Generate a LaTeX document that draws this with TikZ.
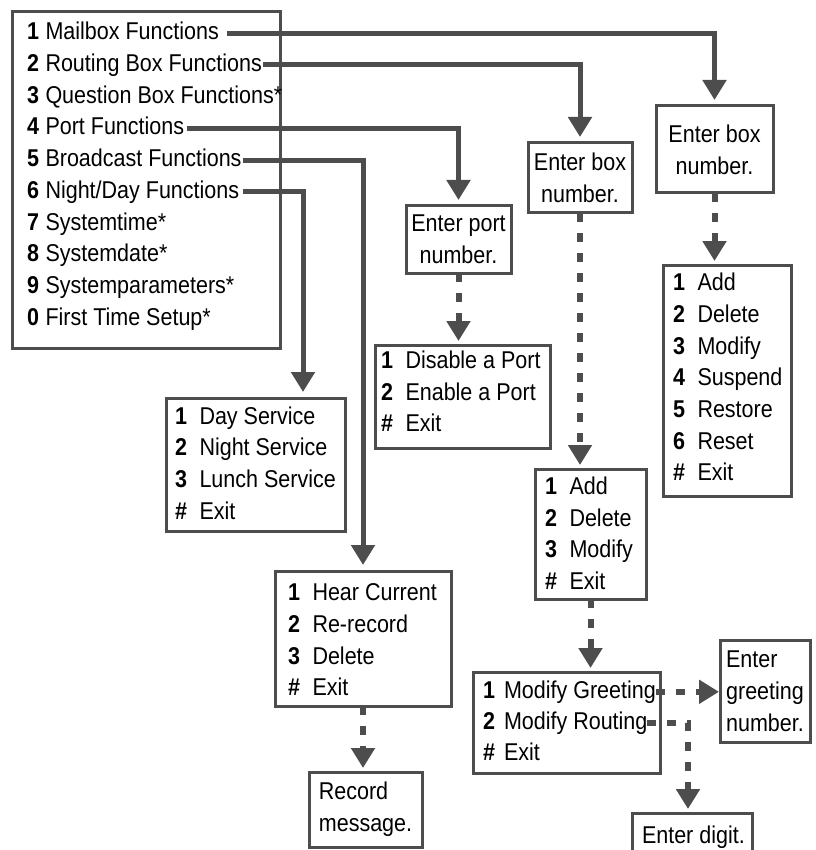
\documentclass[tikz,border=0pt]{standalone}
\usepackage{fontspec}
\setmainfont[FakeStretch=0.885]{Liberation Sans}
\usetikzlibrary{arrows.meta,calc}
\definecolor{lg}{RGB}{77,77,77}
\newcommand\rowfont{\fontsize{24.3}{32}\selectfont}
\newcommand\nmA[1]{\makebox[18.5pt][l]{\bfseries #1}}
\newcommand\nmB[1]{\makebox[24.5pt][l]{\bfseries #1}}
\newcommand\nmC[1]{\makebox[21pt][l]{\bfseries #1}}
\begin{document}
\begin{tikzpicture}[x=1pt,y=-1pt,
  box/.style={draw=lg, line width=3pt, anchor=north west, inner sep=0pt, outer sep=0pt},
  tbox/.style={box, font=\rowfont, align=center},
  row/.style={anchor=base west, inner sep=0pt, outer sep=0pt, text height=13pt, text depth=0pt, font=\rowfont},
  conn/.style={draw=lg, line width=5pt, line join=miter, -{Triangle[width=23pt,length=20pt]}, shorten >=6pt},
  dconn/.style={draw=lg, line width=6pt, dash pattern=on 9pt off 11pt, -{Triangle[width=23pt,length=20pt]}, shorten >=4pt}
]
\useasboundingbox (0,0) rectangle (815,850);
\clip (0,0) rectangle (815,850);

% main menu
\node[box, minimum width=268pt, minimum height=336pt] (main) at (12,12) {};
\node[row] (m1) at (27,39.8) {\nmA{1}Mailbox Functions};
\node[row] (m2) at (27,71.5) {\nmA{2}Routing Box Functions};
\node[row] (m3) at (27,103.2) {\nmA{3}Question Box Functions*};
\node[row] (m4) at (27,134.9) {\nmA{4}Port Functions};
\node[row] (m5) at (27,166.6) {\nmA{5}Broadcast Functions};
\node[row] (m6) at (27,198.3) {\nmA{6}Night/Day Functions};
\node[row] (m7) at (27,230.0) {\nmA{7}Systemtime*};
\node[row] (m8) at (27,261.7) {\nmA{8}Systemdate*};
\node[row] (m9) at (27,293.4) {\nmA{9}Systemparameters*};
\node[row] (m0) at (27,325.1) {\nmA{0}First Time Setup*};

% enter boxes
\node[tbox, minimum width=117pt, minimum height=87pt] (bR) at (656,106) {Enter box\\number.};
\node[tbox, minimum width=104pt, minimum height=70pt] (bM) at (528,143) {Enter box\\number.};
\node[tbox, minimum width=105pt, minimum height=67pt] (bP) at (406,206) {Enter port\\number.};

% right menu
\node[box, minimum width=128pt, minimum height=231pt] (rbox) at (663,265) {};
\node[row] (r1) at (673,290.7) {\nmB{1}Add};
\node[row] (r2) at (673,322.4) {\nmB{2}Delete};
\node[row] (r3) at (673,354.1) {\nmB{3}Modify};
\node[row] (r4) at (673,385.8) {\nmB{4}Suspend};
\node[row] (r5) at (673,417.5) {\nmB{5}Restore};
\node[row] (r6) at (673,449.2) {\nmB{6}Reset};
\node[row] (r7) at (673,480.9) {\nmB{\#}Exit};

% port menu
\node[box, minimum width=175pt, minimum height=103pt] (pbox) at (375,345) {};
\node[row] (p1) at (381,368.3) {\nmB{1}Disable a Port};
\node[row] (p2) at (381,400.0) {\nmB{2}Enable a Port};
\node[row] (p3) at (381,431.7) {\nmB{\#}Exit};

% day menu
\node[box, minimum width=179pt, minimum height=133pt] (day) at (166,398) {};
\node[row] (d1) at (175,424.0) {\nmB{1}Day Service};
\node[row] (d2) at (175,455.7) {\nmB{2}Night Service};
\node[row] (d3) at (175,487.4) {\nmB{3}Lunch Service};
\node[row] (d4) at (175,519.1) {\nmB{\#}Exit};

% middle menu
\node[box, minimum width=111pt, minimum height=130pt] (mbox) at (535,469) {};
\node[row] (a1) at (545,494.3) {\nmB{1}Add};
\node[row] (a2) at (545,526.0) {\nmB{2}Delete};
\node[row] (a3) at (545,557.7) {\nmB{3}Modify};
\node[row] (a4) at (545,589.4) {\nmB{\#}Exit};

% broadcast menu
\node[box, minimum width=176pt, minimum height=135pt] (hear) at (275,571) {};
\node[row] (h1) at (288,600.7) {\nmB{1}Hear Current};
\node[row] (h2) at (288,632.4) {\nmB{2}Re-record};
\node[row] (h3) at (288,664.1) {\nmB{3}Delete};
\node[row] (h4) at (288,695.8) {\nmB{\#}Exit};

% record
\node[tbox, align=left, minimum width=113pt, minimum height=75pt] (rec) at (309,772) {Record\\message.};

% modify menu
\node[box, minimum width=187pt, minimum height=101pt] (modbox) at (473,672) {};
\node[row] (mg) at (483,698.3) {\nmC{1}Modify Greeting};
\node[row] (mr) at (483,729.5) {\nmC{2}Modify Routing};
\node[row] (mx) at (483,760.7) {\nmC{\#}Exit};

% greeting
\node[tbox, align=left, minimum width=90pt, minimum height=102pt] (greet) at (720,640) {Enter\\greeting\\number.};

% enter digit
\node[box, minimum width=120pt, minimum height=60pt] (dig) at (632,813) {};
\node[row] (digt) at (642,843) {Enter digit.};

% solid connectors
\draw[conn, shorten <=8pt] (m1.east) -| (bR.north);
\draw[conn, shorten <=1pt] (m2.east) -| (bM.north);
\draw[conn, shorten <=3pt] (m4.east) -| (bP.north);
\draw[conn, shorten <=1.5pt] (m5.east) -| (hear.north);
\draw[conn, shorten <=4pt] (m6.east) -| ([xshift=137pt]day.north west);

% dashed connectors
\draw[dconn] (bR.south) -- (bR.south |- rbox.north);
\draw[dconn] (bP.south) -- (bP.south |- pbox.north);
\draw[dconn] (bM.south) -- (bM.south |- mbox.north);
\draw[dconn] (mbox.south) -- (mbox.south |- modbox.north);
\draw[dconn] (hear.south) -- (hear.south |- rec.north);
\draw[dconn, shorten >=1pt] (mg.east) -- (mg.east -| greet.west);
\draw[dconn, line join=miter] (mr.east) -| ([xshift=-4pt]dig.north);
\end{tikzpicture}
\end{document}
